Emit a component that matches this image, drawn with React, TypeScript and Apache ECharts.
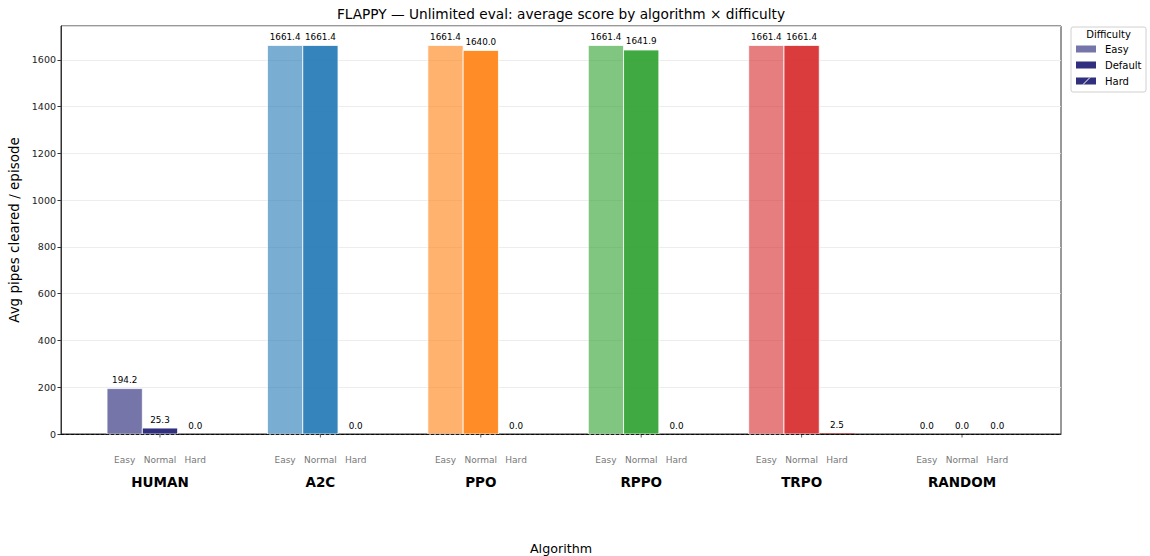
import React, { useEffect, useRef } from "react";
import * as echarts from "echarts";

const algorithms = ["HUMAN", "A2C", "PPO", "RPPO", "TRPO", "RANDOM"];
const difficulties = ["Easy", "Normal", "Hard"];
const easyScores = [194.2, 1661.4, 1661.4, 1661.4, 1661.4, 0.0];
const normalScores = [25.3, 1661.4, 1640.0, 1641.9, 1661.4, 0.0];
const hardScores = [0.0, 0.0, 0.0, 0.0, 2.5, 0.0];
const seriesScores = [easyScores, normalScores, hardScores];
const legendNames = ["Easy", "Default", "Hard"];

const baseColors = ["25,25,112", "31,119,180", "255,127,14", "44,160,44", "214,39,40", "127,127,127"];
const alphas = [0.6, 0.9, 0.9];
const FONT = "DejaVu Sans";
const BW = 0.22;

export default function App() {
  const ref = useRef<HTMLDivElement>(null);
  useEffect(() => {
    if (!ref.current) return;
    const chart = echarts.init(ref.current, undefined, { renderer: "svg" });

    const series: any[] = seriesScores.map((scores, d) => ({
      type: "custom",
      name: legendNames[d],
      clip: false,
      z: 2,
      data: scores.map((v, i) => [i, v]),
      renderItem: (params: any, api: any) => {
        const cat = api.value(0);
        const v = api.value(1);
        const cx = cat + (d - 1) * BW;
        const top = api.coord([cx - BW / 2, v]);
        const bot = api.coord([cx + BW / 2, 0]);
        const mid = api.coord([cx, 0]);
        const children: any[] = [];
        if (v > 0) {
          children.push({
            type: "rect",
            shape: { x: top[0], y: top[1], width: bot[0] - top[0], height: bot[1] - top[1] },
            style: {
              fill: `rgba(${baseColors[cat]},${alphas[d]})`,
              stroke: d === 2 ? null : "#ffffff",
              lineWidth: 0.8,
            },
          });
        }
        children.push({
          type: "text",
          x: mid[0],
          y: top[1] - 4,
          style: {
            text: v.toFixed(1),
            align: "center",
            verticalAlign: "bottom",
            fontSize: 8.8,
            fontFamily: FONT,
            fill: "#000",
          },
        });
        children.push({
          type: "text",
          x: mid[0],
          y: mid[1] + 26,
          style: {
            text: difficulties[d],
            align: "center",
            verticalAlign: "middle",
            fontSize: 9,
            fontFamily: FONT,
            fill: "#777",
          },
        });
        if (d === 1) {
          children.push({
            type: "line",
            shape: { x1: mid[0], y1: mid[1], x2: mid[0], y2: mid[1] + 3.5 },
            style: { stroke: "#333", lineWidth: 0.8 },
          });
          children.push({
            type: "text",
            x: mid[0],
            y: mid[1] + 48,
            style: {
              text: algorithms[cat],
              align: "center",
              verticalAlign: "middle",
              fontSize: 13.5,
              fontWeight: "bold",
              fontFamily: FONT,
              fill: "#000",
            },
          });
        }
        return { type: "group", children };
      },
    }));

    series.push({
      type: "line",
      data: [],
      z: 5,
      markLine: {
        silent: true,
        symbol: "none",
        label: { show: false },
        lineStyle: { type: [3, 2], color: "#000", width: 0.8 },
        data: [{ yAxis: 0 }],
      },
    });

    const lx = 1071, ly = 27;
    const legendItems: any[] = [
      {
        type: "rect",
        shape: { x: lx, y: ly, width: 75, height: 65, r: 2 },
        style: { fill: "#fff", stroke: "#d0d0d0", lineWidth: 1 },
      },
      {
        type: "text",
        x: lx + 37.5,
        y: ly + 7,
        style: { text: "Difficulty", align: "center", verticalAlign: "middle", fontSize: 10, fontFamily: FONT, fill: "#000" },
      },
    ];
    legendNames.forEach((n, k) => {
      const yy = ly + 22 + k * 16;
      legendItems.push({
        type: "rect",
        shape: { x: lx + 5, y: yy - 3.5, width: 20, height: 7 },
        style: { fill: `rgba(25,25,112,${alphas[k]})` },
      });
      if (k === 2) {
        legendItems.push({
          type: "line",
          shape: { x1: lx + 12, y1: yy + 3.5, x2: lx + 19, y2: yy - 3.5 },
          style: { stroke: "#fff", lineWidth: 1 },
        });
      }
      legendItems.push({
        type: "text",
        x: lx + 34,
        y: yy,
        style: { text: n, align: "left", verticalAlign: "middle", fontSize: 10, fontFamily: FONT, fill: "#000" },
      });
    });

    chart.setOption({
      animation: false,
      backgroundColor: "#fff",
      textStyle: { fontFamily: FONT },
      grid: {
        left: 61,
        top: 26,
        width: 1000,
        height: 408,
        show: true,
        borderColor: "#333",
        borderWidth: 1,
        backgroundColor: "transparent",
        outerBoundsMode: "none",
        containLabel: false,
      },
      xAxis: {
        type: "value",
        min: -0.617,
        max: 5.617,
        axisLine: { show: true, lineStyle: { color: "#333", width: 1 } },
        axisTick: { show: false },
        axisLabel: { show: false },
        splitLine: { show: false },
        name: "Algorithm",
        nameLocation: "middle",
        nameGap: 108,
        nameTextStyle: { fontSize: 12.7, color: "#000", fontFamily: FONT },
      },
      yAxis: {
        type: "value",
        min: 0,
        max: 1744.47,
        interval: 200,
        axisLine: { show: true, onZero: false, lineStyle: { color: "#333", width: 1 } },
        axisTick: { show: true, length: 3.5, lineStyle: { color: "#333" } },
        axisLabel: {
          fontSize: 9.5,
          color: "#222",
          margin: 5,
          showMaxLabel: false,
          fontFamily: FONT,
          formatter: (v: number) => String(v),
        },
        splitLine: { show: true, lineStyle: { color: "#e8e8e8", width: 0.8 } },
        name: "Avg pipes cleared / episode",
        nameLocation: "middle",
        nameGap: 37,
        nameTextStyle: { fontSize: 13.5, color: "#000", fontFamily: FONT },
      },
      graphic: [
        {
          type: "text",
          x: 561,
          y: 14,
          style: {
            text: "FLAPPY — Unlimited eval: average score by algorithm × difficulty",
            align: "center",
            verticalAlign: "middle",
            fontSize: 13.7,
            fontFamily: FONT,
            fill: "#000",
          },
        },
        ...legendItems,
      ],
      series,
    });
    return () => chart.dispose();
  }, []);
  return (
    <div
      ref={ref}
      style={{ position: "fixed", left: 0, top: 0, width: 1150, height: 556, background: "#fff" }}
    />
  );
}
